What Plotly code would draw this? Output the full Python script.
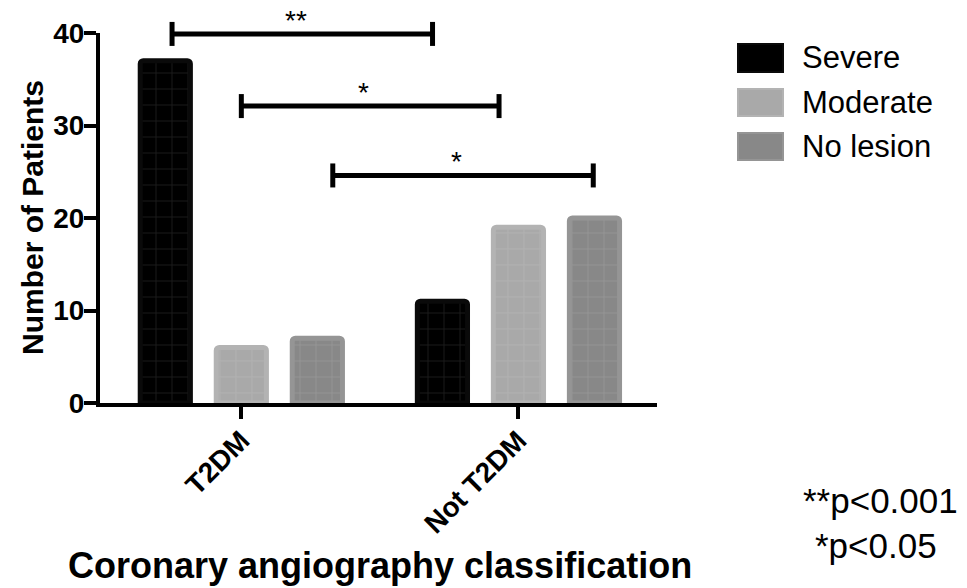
import plotly.graph_objects as go

categories = ["T2DM", "Not T2DM"]
series_names = ["Severe", "Moderate", "No lesion"]
severe = [37, 11]
moderate = [6, 19]
no_lesion = [7, 20]
values = [severe, moderate, no_lesion]

# significance brackets: (x start, x end, y level) in data units, label
brackets = [(-0.25, 0.69, 39.9, "**"), (0.0, 0.93, 32.1, "*"), (0.33, 1.27, 24.6, "*")]
p_notes = ["**p<0.001", "*p<0.05"]

fills = ["#000000", "#a9a9a9", "#888888"]
borders = ["#0a0a0a", "#b3b3b3", "#959595"]
grids = ["#3c3c3c", "#bcbcbc", "#a6a6a6"]

FONT = "Liberation Sans, Arial, Helvetica, sans-serif"

OFF = 8  # page body margin
L, R, T, B = 100 - OFF, 657 - OFF, 33 - OFF, 403 - OFF
W, H = 967 - OFF, 588 - OFF
XR = [-0.51, 1.5]
YR = [0, 40]


def px2x(px):
    return (px - OFF - L) / (R - L)


def py2y(py):
    return (B - (py - OFF)) / (B - T)


def dx2p(x):
    return (x - XR[0]) / (XR[1] - XR[0])


def dy2p(y):
    return (y - YR[0]) / (YR[1] - YR[0])


fig = go.Figure()
for name, vals, fc, bc, gc in zip(series_names, values, fills, borders, grids):
    fig.add_trace(go.Bar(
        x=categories, y=vals, name=name,
        marker=dict(color=fc, line=dict(color=bc, width=5), cornerradius=3,
                    pattern=dict(shape="+", fgcolor=gc, bgcolor=fc, size=16, solidity=0.1,
                                 fillmode="overlay")),
        showlegend=False,
    ))

shapes = []
annotations = []
cap = 12 / (B - T)
for x0, x1, y, lab in brackets:
    px0, px1, py = dx2p(x0), dx2p(x1), dy2p(y)
    shapes.append(dict(type="line", xref="paper", yref="paper", x0=px0, x1=px1, y0=py, y1=py,
                       line=dict(color="black", width=5)))
    for xx in (px0, px1):
        shapes.append(dict(type="line", xref="paper", yref="paper", x0=xx, x1=xx, y0=py - cap, y1=py + cap,
                           line=dict(color="black", width=5)))
    annotations.append(dict(x=(px0 + px1) / 2 - 0.012, y=py - 4 / (B - T), xref="paper", yref="paper", text=lab,
                            showarrow=False, yanchor="bottom", xanchor="center",
                            font=dict(family=FONT, size=28, color="black")))

# custom legend
leg_y = [(44, 72), (89, 116), (133, 160)]
for (y0, y1), name, fc, bc in zip(leg_y, series_names, fills, borders):
    shapes.append(dict(type="rect", xref="paper", yref="paper", x0=px2x(738), x1=px2x(783),
                       y0=py2y(y1), y1=py2y(y0), fillcolor=fc, line=dict(color=bc, width=2)))
    annotations.append(dict(x=px2x(800), y=py2y((y0 + y1) / 2), xref="paper", yref="paper",
                            text=name, showarrow=False, xanchor="left", yanchor="middle",
                            font=dict(family=FONT, size=31, color="black")))

# axis titles
annotations.append(dict(x=px2x(32), y=py2y(218), xref="paper", yref="paper", text="<b>Number of Patients</b>",
                        textangle=-90, showarrow=False, xanchor="center", yanchor="middle",
                        font=dict(family=FONT, size=30, color="black")))
annotations.append(dict(x=px2x(380), y=py2y(565), xref="paper", yref="paper",
                        text="<b>Coronary angiography classification</b>",
                        showarrow=False, xanchor="center", yanchor="middle",
                        font=dict(family=FONT, size=36, color="black")))
# p-value notes
annotations.append(dict(x=px2x(880), y=py2y(500), xref="paper", yref="paper", text=p_notes[0],
                        showarrow=False, xanchor="center", yanchor="middle",
                        font=dict(family=FONT, size=35, color="black")))
annotations.append(dict(x=px2x(876), y=py2y(545), xref="paper", yref="paper", text=p_notes[1],
                        showarrow=False, xanchor="center", yanchor="middle",
                        font=dict(family=FONT, size=35, color="black")))

fig.update_layout(
    width=W, height=H,
    margin=dict(l=L, r=W - R, t=T, b=H - B, pad=0),
    paper_bgcolor="white", plot_bgcolor="white",
    barmode="group", bargap=0.177, bargroupgap=0.34,
    shapes=shapes, annotations=annotations,
    font=dict(family=FONT, color="black"),
)
fig.update_xaxes(range=XR, showline=True, linecolor="black", linewidth=4,
                 ticks="outside", ticklen=12, tickwidth=4, tickcolor="black",
                 tickangle=-45, tickfont=dict(family=FONT, size=28, color="black", weight="bold"),
                 ticklabelstandoff=-6,
                 showgrid=False, zeroline=False, automargin=False)
fig.update_yaxes(range=YR, tickvals=[0, 10, 20, 30, 40], showline=True, linecolor="black", linewidth=4,
                 ticks="outside", ticklen=12, tickwidth=4, tickcolor="black",
                 tickfont=dict(family=FONT, size=28, color="black", weight="bold"),
                 ticklabelstandoff=-6,
                 showgrid=False, zeroline=False, automargin=False)

fig.write_html("out.html")
